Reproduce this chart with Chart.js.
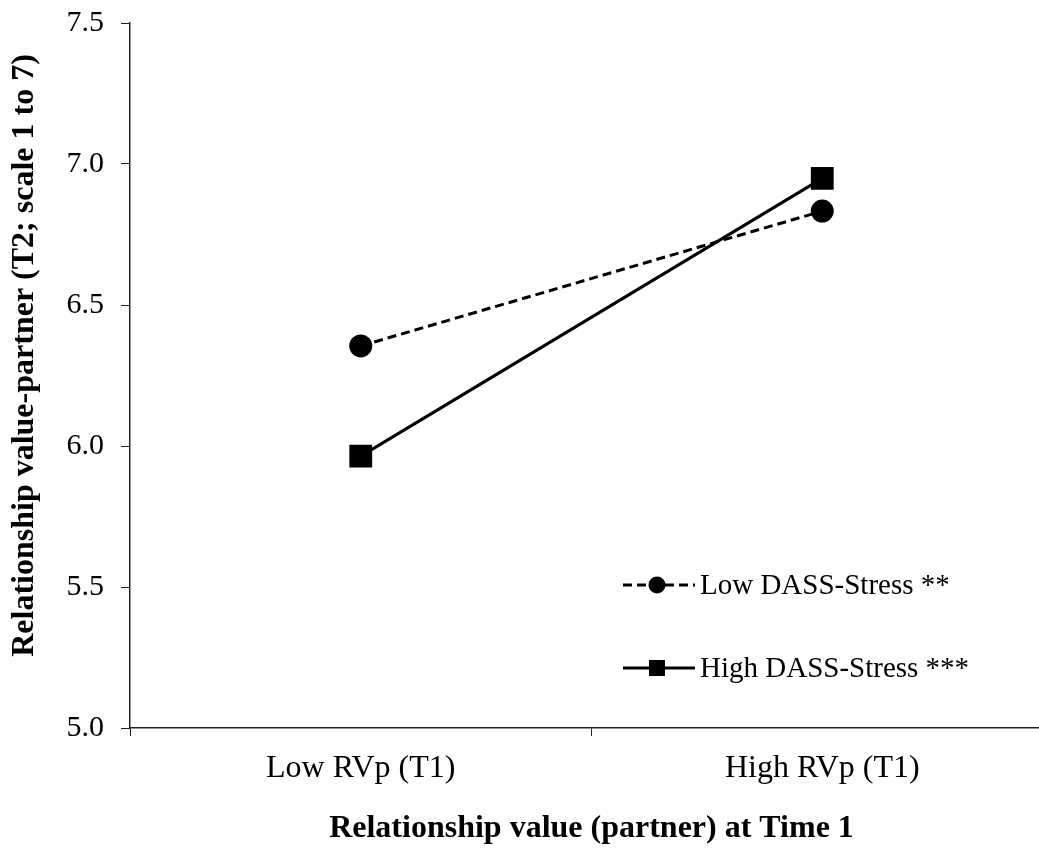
<!DOCTYPE html>
<html>
<head>
<meta charset="utf-8">
<script src="https://cdn.jsdelivr.net/npm/chart.js@4/dist/chart.umd.min.js"></script>
<style>
  html, body { margin: 0; padding: 0; background: #fff; overflow: hidden; }
  #wrap { position: relative; width: 1070px; height: 854px; }
  #chart { display: block; }
</style>
</head>
<body>
<div id="wrap"><canvas id="chart" width="1070" height="854"></canvas></div>
<script>
// Group means of partner relationship value at T2
const categories = ['Low RVp (T1)', 'High RVp (T1)'];
const seriesNames = ['Low DASS-Stress **', 'High DASS-Stress ***'];
const lowStress = [6.355, 6.833];
const highStress = [5.964, 6.949];
const yTicks = [5.0, 5.5, 6.0, 6.5, 7.0, 7.5];

const serif = '"Liberation Serif", "Times New Roman", serif';

// Legend drawn inside the plot area, lower right
const insideLegend = {
  id: 'insideLegend',
  afterDatasetsDraw(chart) {
    const ctx = chart.ctx;
    const a = chart.chartArea;
    const rows = [
      { ds: chart.data.datasets[0], y: a.top + 562 },
      { ds: chart.data.datasets[1], y: a.top + 645 }
    ];
    const x0 = a.left + 493, x1 = a.left + 565, xm = a.left + 527, xt = a.left + 570;
    rows.forEach(r => {
      ctx.save();
      ctx.strokeStyle = r.ds.borderColor;
      ctx.lineWidth = r.ds.borderWidth;
      ctx.setLineDash(r.ds.borderDash || []);
      ctx.beginPath();
      ctx.moveTo(x0, r.y);
      ctx.lineTo(x1, r.y);
      ctx.stroke();
      ctx.setLineDash([]);
      ctx.fillStyle = r.ds.pointBackgroundColor;
      ctx.beginPath();
      if (r.ds.pointStyle === 'rect') {
        ctx.rect(xm - 8, r.y - 8, 16, 16);
      } else {
        ctx.arc(xm, r.y, 8.5, 0, Math.PI * 2);
      }
      ctx.fill();
      ctx.fillStyle = '#000';
      ctx.font = '29px ' + serif;
      ctx.textBaseline = 'middle';
      ctx.textAlign = 'left';
      ctx.fillText(r.ds.label, xt, r.y + 1);
      ctx.restore();
    });
  }
};

new Chart(document.getElementById('chart'), {
  type: 'line',
  data: {
    labels: categories,
    datasets: [
      {
        label: seriesNames[0],
        data: lowStress,
        borderColor: '#000',
        backgroundColor: '#000',
        pointBackgroundColor: '#000',
        pointBorderColor: '#000',
        borderWidth: 3,
        borderDash: [9, 5],
        pointStyle: 'circle',
        pointRadius: 10,
        pointHoverRadius: 10,
        tension: 0
      },
      {
        label: seriesNames[1],
        data: highStress,
        borderColor: '#000',
        backgroundColor: '#000',
        pointBackgroundColor: '#000',
        pointBorderColor: '#000',
        borderWidth: 3,
        pointStyle: 'rect',
        pointRadius: 14,
        pointHoverRadius: 14,
        tension: 0
      }
    ]
  },
  options: {
    responsive: false,
    maintainAspectRatio: false,
    animation: false,
    devicePixelRatio: 1,
    layout: { padding: { left: 0, top: 23, right: 4, bottom: 0 } },
    plugins: {
      legend: { display: false },
      tooltip: { enabled: false }
    },
    scales: {
      x: {
        type: 'category',
        offset: true,
        grid: {
          offset: true,
          drawOnChartArea: false,
          drawTicks: true,
          tickLength: 8,
          color: '#222',
          lineWidth: 1
        },
        border: { color: '#222', width: 1.5 },
        ticks: {
          color: '#000',
          font: { family: serif, size: 32 },
          padding: 13,
          maxRotation: 0
        },
        title: {
          display: true,
          text: 'Relationship value (partner) at Time 1',
          color: '#000',
          font: { family: serif, size: 32, weight: 'bold' },
          padding: { top: 6, bottom: 6 }
        },
        afterFit(scale) {
          scale.height = 126;
          scale.paddingLeft = 0;
          scale.paddingRight = 0;
        }
      },
      y: {
        min: 5,
        max: 7.5,
        afterBuildTicks(scale) { scale.ticks = yTicks.map(v => ({ value: v })); },
        grid: {
          drawOnChartArea: false,
          drawTicks: true,
          tickLength: 9,
          color: '#222',
          lineWidth: 1
        },
        border: { color: '#222', width: 1.5 },
        ticks: {
          color: '#000',
          font: { family: serif, size: 30 },
          padding: 17,
          callback: v => Number(v).toFixed(1)
        },
        title: {
          display: true,
          text: '     Relationship value-partner (T2; scale 1 to 7)',
          color: '#000',
          font: { family: serif, size: 32, weight: 'bold' },
          padding: { top: 6, bottom: 0 }
        },
        afterFit(scale) {
          scale.width = 130;
          scale.paddingTop = 0;
          scale.paddingBottom = 0;
        }
      }
    }
  },
  plugins: [insideLegend]
});
</script>
</body>
</html>
